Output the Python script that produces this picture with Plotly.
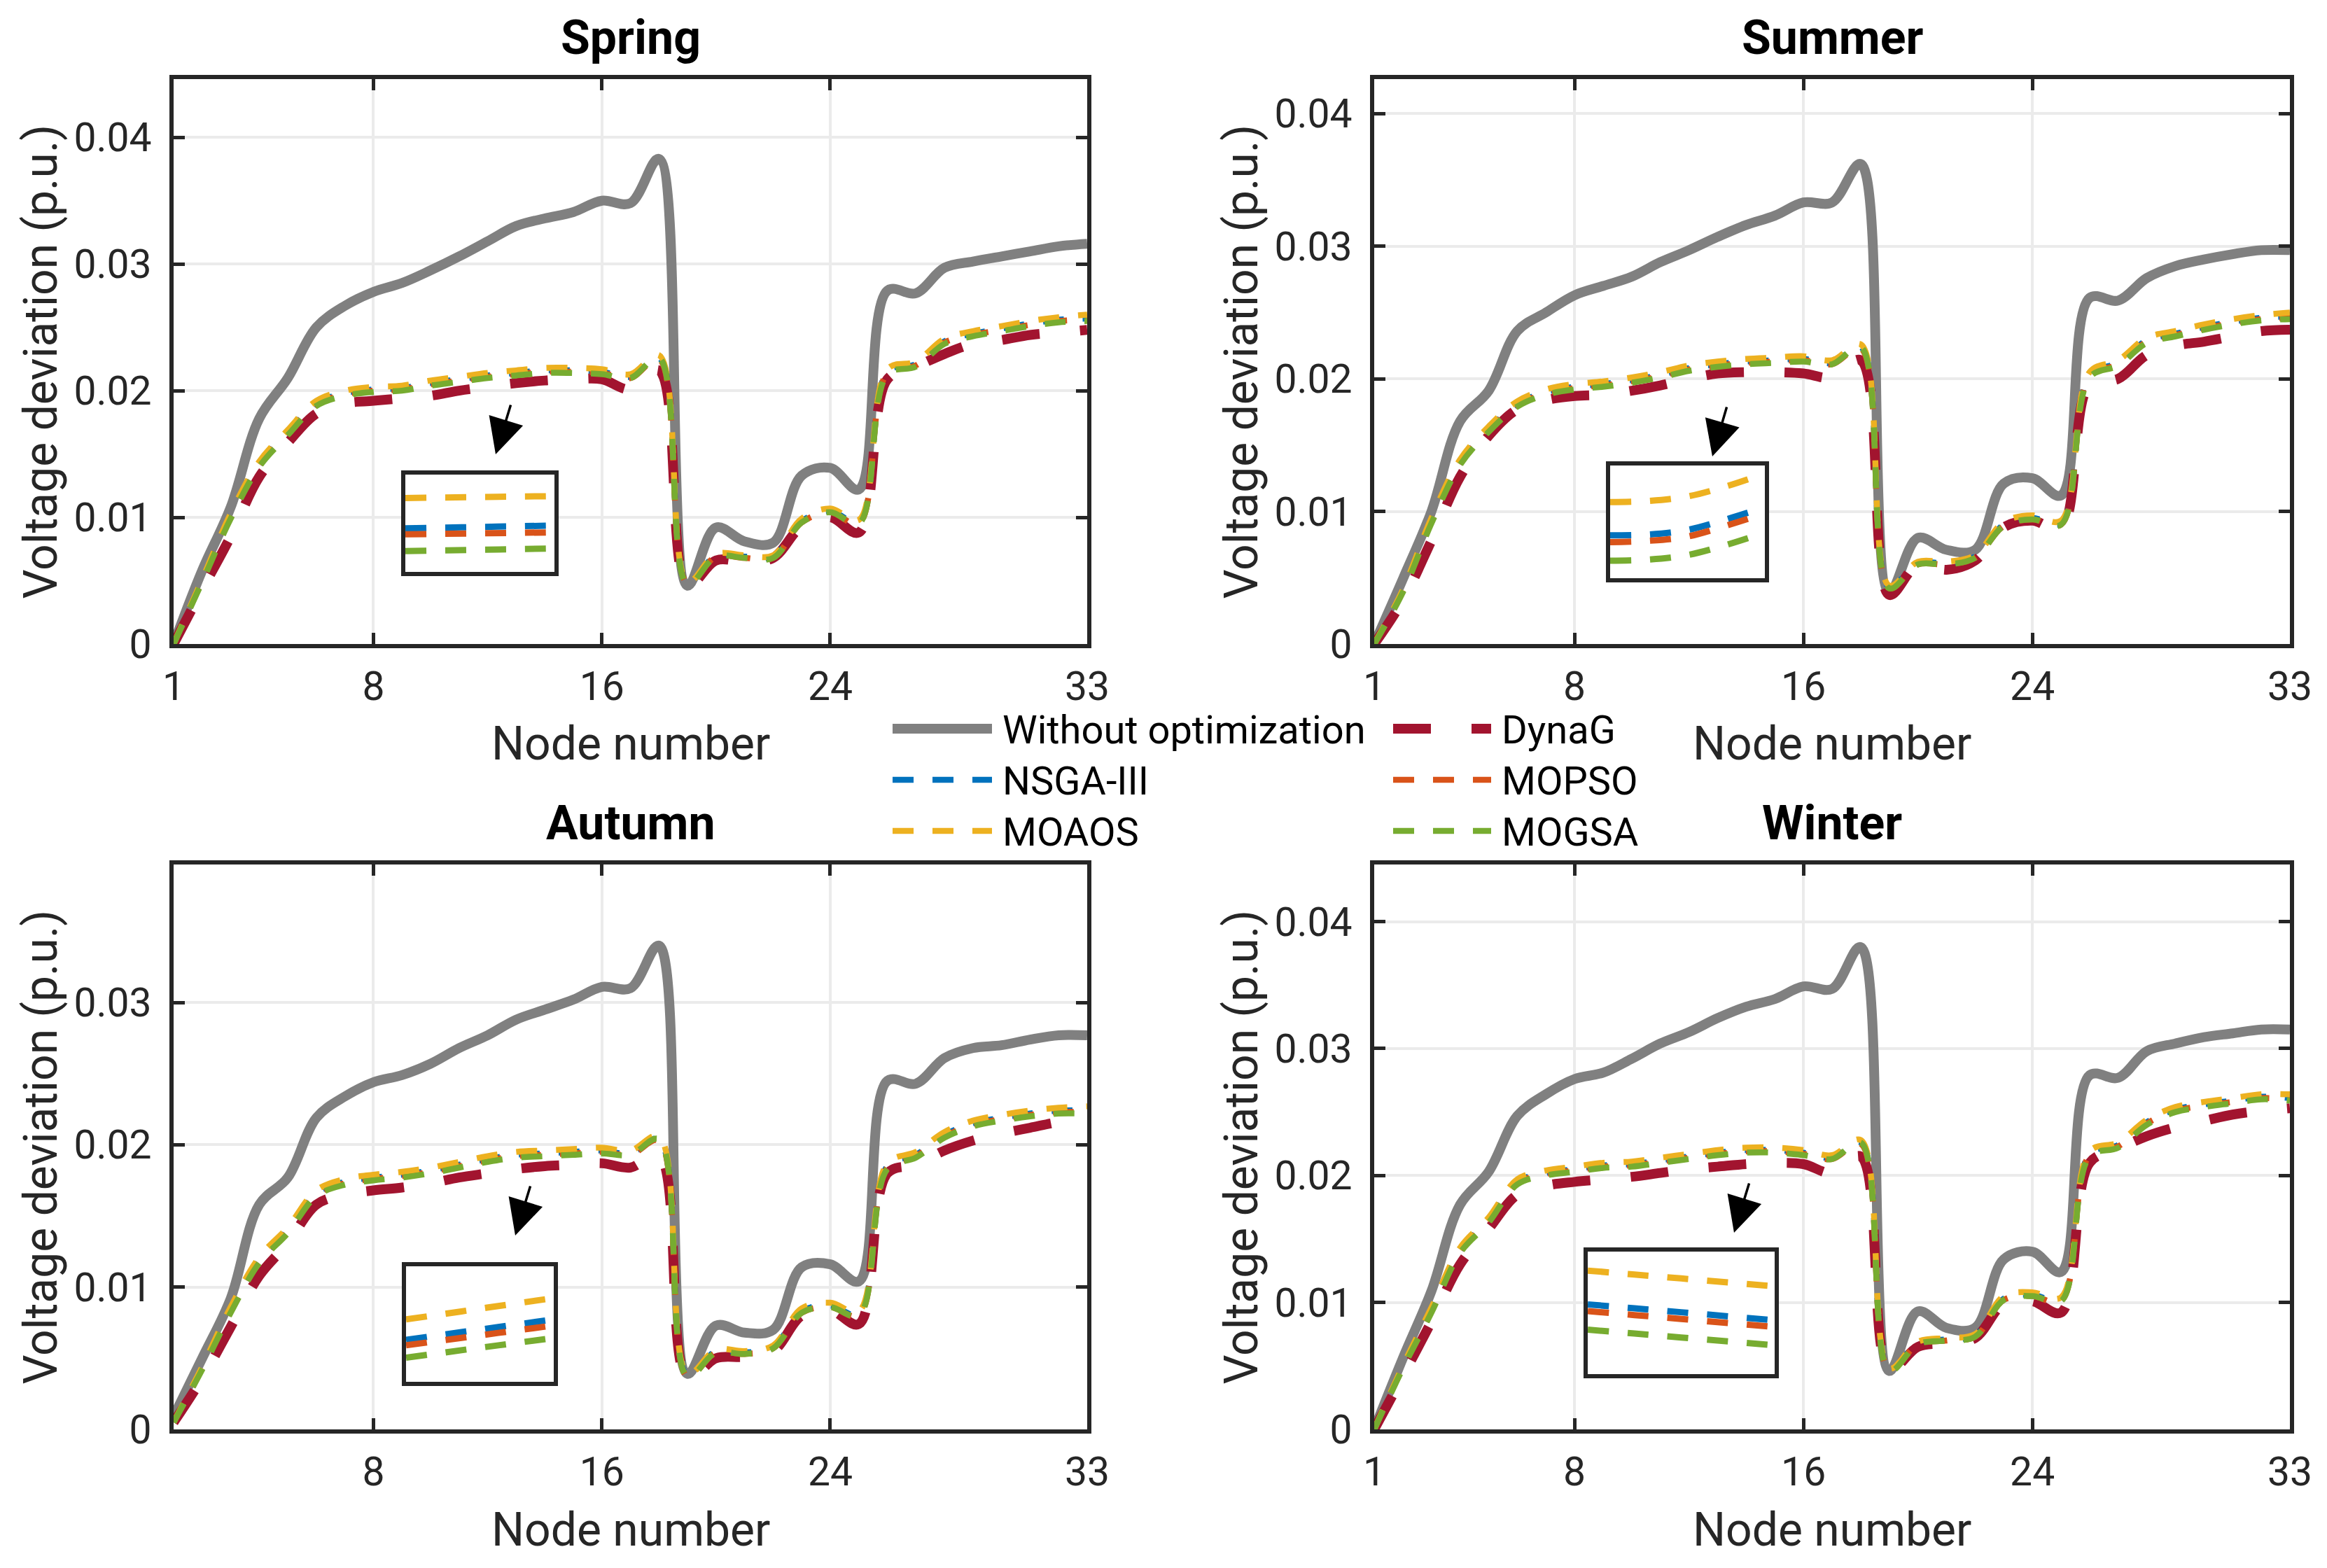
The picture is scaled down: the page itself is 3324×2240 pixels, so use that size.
import plotly.graph_objects as go

W, H = 3324, 2240

nodes = list(range(1, 34))

# ---------------- Spring ----------------
spring_without = [0.0000, 0.0058, 0.0108, 0.0178, 0.0210, 0.0250, 0.0267, 0.0278, 0.0285, 0.0295, 0.0306, 0.0318, 0.0330, 0.0336, 0.0341, 0.0350, 0.0348, 0.0383, 0.0046, 0.0092, 0.0081, 0.0080, 0.0133, 0.0139, 0.0122, 0.0279, 0.0277, 0.0297, 0.0302, 0.0306, 0.0310, 0.0314, 0.0316]
spring_dynag = [0.0000, 0.0043, 0.0085, 0.0132, 0.0159, 0.0182, 0.0190, 0.0192, 0.0194, 0.0196, 0.0200, 0.0203, 0.0206, 0.0208, 0.0209, 0.0209, 0.0201, 0.0216, 0.0046, 0.0066, 0.0065, 0.0068, 0.0093, 0.0100, 0.0088, 0.0209, 0.0219, 0.0229, 0.0237, 0.0240, 0.0244, 0.0246, 0.0248]
spring_nsga = [0.0000, 0.0050, 0.0101, 0.0142, 0.0167, 0.0190, 0.0198, 0.0201, 0.0202, 0.0206, 0.0209, 0.0212, 0.0214, 0.0216, 0.0216, 0.0215, 0.0211, 0.0226, 0.0048, 0.0070, 0.0069, 0.0069, 0.0097, 0.0105, 0.0096, 0.0215, 0.0221, 0.0239, 0.0245, 0.0249, 0.0253, 0.0256, 0.0257]
spring_mopso = [0.0000, 0.0050, 0.0100, 0.0141, 0.0166, 0.0189, 0.0197, 0.0200, 0.0201, 0.0205, 0.0208, 0.0211, 0.0213, 0.0215, 0.0215, 0.0214, 0.0210, 0.0225, 0.0048, 0.0069, 0.0068, 0.0068, 0.0096, 0.0104, 0.0095, 0.0214, 0.0220, 0.0238, 0.0244, 0.0248, 0.0252, 0.0255, 0.0256]
spring_moaos = [0.0000, 0.0051, 0.0103, 0.0144, 0.0169, 0.0192, 0.0200, 0.0203, 0.0204, 0.0208, 0.0211, 0.0214, 0.0216, 0.0218, 0.0218, 0.0217, 0.0213, 0.0228, 0.0049, 0.0071, 0.0070, 0.0070, 0.0099, 0.0107, 0.0098, 0.0217, 0.0223, 0.0241, 0.0247, 0.0251, 0.0255, 0.0258, 0.0260]
spring_mogsa = [0.0000, 0.0049, 0.0099, 0.0140, 0.0165, 0.0188, 0.0196, 0.0199, 0.0200, 0.0204, 0.0207, 0.0210, 0.0212, 0.0214, 0.0214, 0.0213, 0.0210, 0.0226, 0.0047, 0.0069, 0.0068, 0.0068, 0.0096, 0.0104, 0.0095, 0.0213, 0.0219, 0.0237, 0.0243, 0.0247, 0.0251, 0.0254, 0.0255]

# ---------------- Summer ----------------
summer_without = [0.0000, 0.0049, 0.0100, 0.0168, 0.0191, 0.0236, 0.0250, 0.0263, 0.0270, 0.0277, 0.0288, 0.0297, 0.0307, 0.0316, 0.0323, 0.0333, 0.0333, 0.0362, 0.0039, 0.0080, 0.0071, 0.0071, 0.0121, 0.0125, 0.0112, 0.0261, 0.0259, 0.0276, 0.0285, 0.0290, 0.0294, 0.0297, 0.0297]
summer_dynag = [0.0000, 0.0033, 0.0078, 0.0126, 0.0157, 0.0177, 0.0184, 0.0187, 0.0188, 0.0191, 0.0195, 0.0200, 0.0204, 0.0205, 0.0205, 0.0204, 0.0201, 0.0214, 0.0037, 0.0060, 0.0056, 0.0063, 0.0088, 0.0093, 0.0087, 0.0196, 0.0200, 0.0218, 0.0225, 0.0228, 0.0232, 0.0236, 0.0237]
summer_nsga = [0.0000, 0.0040, 0.0093, 0.0137, 0.0162, 0.0181, 0.0190, 0.0194, 0.0196, 0.0199, 0.0203, 0.0208, 0.0211, 0.0213, 0.0214, 0.0215, 0.0212, 0.0224, 0.0043, 0.0061, 0.0061, 0.0066, 0.0090, 0.0095, 0.0091, 0.0203, 0.0212, 0.0229, 0.0234, 0.0239, 0.0243, 0.0246, 0.0247]
summer_mopso = [0.0000, 0.0040, 0.0092, 0.0136, 0.0161, 0.0180, 0.0189, 0.0193, 0.0195, 0.0198, 0.0202, 0.0207, 0.0210, 0.0212, 0.0213, 0.0214, 0.0211, 0.0223, 0.0042, 0.0060, 0.0060, 0.0065, 0.0089, 0.0094, 0.0090, 0.0202, 0.0211, 0.0228, 0.0233, 0.0238, 0.0242, 0.0245, 0.0246]
summer_moaos = [0.0000, 0.0041, 0.0095, 0.0139, 0.0164, 0.0183, 0.0192, 0.0196, 0.0198, 0.0201, 0.0205, 0.0210, 0.0213, 0.0215, 0.0216, 0.0217, 0.0214, 0.0226, 0.0044, 0.0062, 0.0062, 0.0067, 0.0092, 0.0097, 0.0093, 0.0205, 0.0214, 0.0231, 0.0236, 0.0241, 0.0245, 0.0248, 0.0250]
summer_mogsa = [0.0000, 0.0039, 0.0091, 0.0135, 0.0160, 0.0179, 0.0188, 0.0192, 0.0194, 0.0197, 0.0201, 0.0206, 0.0209, 0.0211, 0.0212, 0.0213, 0.0211, 0.0224, 0.0042, 0.0060, 0.0060, 0.0065, 0.0089, 0.0094, 0.0090, 0.0201, 0.0210, 0.0227, 0.0232, 0.0237, 0.0241, 0.0244, 0.0245]

# ---------------- Autumn ----------------
autumn_without = [0.0009, 0.0050, 0.0092, 0.0158, 0.0177, 0.0219, 0.0234, 0.0244, 0.0249, 0.0257, 0.0268, 0.0277, 0.0288, 0.0295, 0.0302, 0.0311, 0.0310, 0.0340, 0.0039, 0.0073, 0.0068, 0.0070, 0.0114, 0.0116, 0.0104, 0.0245, 0.0243, 0.0261, 0.0268, 0.0270, 0.0274, 0.0277, 0.0277]
autumn_dynag = [0.0005, 0.0036, 0.0072, 0.0108, 0.0131, 0.0158, 0.0165, 0.0168, 0.0170, 0.0173, 0.0177, 0.0180, 0.0183, 0.0185, 0.0186, 0.0187, 0.0184, 0.0193, 0.0036, 0.0050, 0.0051, 0.0055, 0.0080, 0.0084, 0.0074, 0.0180, 0.0186, 0.0196, 0.0203, 0.0208, 0.0212, 0.0216, 0.0218]
autumn_nsga = [0.0005, 0.0043, 0.0084, 0.0119, 0.0140, 0.0166, 0.0174, 0.0177, 0.0179, 0.0182, 0.0186, 0.0190, 0.0193, 0.0194, 0.0195, 0.0196, 0.0194, 0.0204, 0.0038, 0.0055, 0.0054, 0.0058, 0.0083, 0.0087, 0.0081, 0.0185, 0.0193, 0.0207, 0.0215, 0.0219, 0.0222, 0.0224, 0.0224]
autumn_mopso = [0.0005, 0.0043, 0.0083, 0.0118, 0.0139, 0.0165, 0.0173, 0.0176, 0.0178, 0.0181, 0.0185, 0.0189, 0.0192, 0.0193, 0.0194, 0.0195, 0.0193, 0.0203, 0.0037, 0.0054, 0.0053, 0.0057, 0.0082, 0.0086, 0.0080, 0.0184, 0.0192, 0.0206, 0.0214, 0.0218, 0.0221, 0.0223, 0.0223]
autumn_moaos = [0.0005, 0.0044, 0.0086, 0.0121, 0.0142, 0.0168, 0.0176, 0.0179, 0.0181, 0.0184, 0.0188, 0.0192, 0.0195, 0.0196, 0.0197, 0.0198, 0.0196, 0.0206, 0.0039, 0.0056, 0.0055, 0.0059, 0.0085, 0.0089, 0.0083, 0.0187, 0.0195, 0.0209, 0.0217, 0.0221, 0.0224, 0.0226, 0.0227]
autumn_mogsa = [0.0005, 0.0042, 0.0082, 0.0117, 0.0138, 0.0164, 0.0172, 0.0175, 0.0177, 0.0180, 0.0184, 0.0188, 0.0191, 0.0192, 0.0193, 0.0194, 0.0193, 0.0204, 0.0037, 0.0054, 0.0053, 0.0057, 0.0082, 0.0086, 0.0080, 0.0183, 0.0191, 0.0205, 0.0213, 0.0217, 0.0220, 0.0222, 0.0222]

# ---------------- Winter ----------------
winter_without = [0.0000, 0.0056, 0.0109, 0.0177, 0.0203, 0.0247, 0.0264, 0.0276, 0.0281, 0.0292, 0.0304, 0.0313, 0.0324, 0.0333, 0.0339, 0.0349, 0.0347, 0.0380, 0.0046, 0.0093, 0.0080, 0.0080, 0.0134, 0.0140, 0.0124, 0.0279, 0.0277, 0.0298, 0.0304, 0.0309, 0.0312, 0.0315, 0.0315]
winter_dynag = [0.0000, 0.0042, 0.0085, 0.0130, 0.0158, 0.0185, 0.0192, 0.0195, 0.0197, 0.0199, 0.0202, 0.0205, 0.0207, 0.0209, 0.0210, 0.0209, 0.0202, 0.0215, 0.0047, 0.0065, 0.0068, 0.0072, 0.0099, 0.0101, 0.0092, 0.0210, 0.0221, 0.0231, 0.0238, 0.0243, 0.0248, 0.0251, 0.0253]
winter_nsga = [0.0000, 0.0049, 0.0094, 0.0141, 0.0165, 0.0195, 0.0202, 0.0205, 0.0208, 0.0209, 0.0212, 0.0215, 0.0218, 0.0220, 0.0220, 0.0218, 0.0214, 0.0226, 0.0047, 0.0068, 0.0071, 0.0074, 0.0103, 0.0106, 0.0102, 0.0217, 0.0224, 0.0242, 0.0252, 0.0256, 0.0259, 0.0262, 0.0261]
winter_mopso = [0.0000, 0.0049, 0.0093, 0.0140, 0.0164, 0.0194, 0.0201, 0.0204, 0.0207, 0.0208, 0.0211, 0.0214, 0.0217, 0.0219, 0.0219, 0.0217, 0.0213, 0.0225, 0.0047, 0.0067, 0.0070, 0.0073, 0.0102, 0.0105, 0.0101, 0.0216, 0.0223, 0.0241, 0.0251, 0.0255, 0.0258, 0.0261, 0.0260]
winter_moaos = [0.0000, 0.0050, 0.0096, 0.0143, 0.0167, 0.0197, 0.0204, 0.0207, 0.0210, 0.0211, 0.0214, 0.0217, 0.0220, 0.0222, 0.0222, 0.0220, 0.0216, 0.0228, 0.0048, 0.0069, 0.0072, 0.0075, 0.0105, 0.0108, 0.0104, 0.0219, 0.0226, 0.0244, 0.0254, 0.0258, 0.0261, 0.0264, 0.0264]
winter_mogsa = [0.0000, 0.0048, 0.0092, 0.0139, 0.0163, 0.0193, 0.0200, 0.0203, 0.0206, 0.0207, 0.0210, 0.0213, 0.0216, 0.0218, 0.0218, 0.0216, 0.0213, 0.0226, 0.0046, 0.0067, 0.0070, 0.0073, 0.0102, 0.0105, 0.0101, 0.0215, 0.0222, 0.0240, 0.0250, 0.0254, 0.0257, 0.0260, 0.0259]

# ---------------- Zoomed insets (relative units) ----------------
inset_x = [0, 0.25, 0.5, 0.75, 1]
spring_inset_moaos = [0.759, 0.764, 0.769, 0.774, 0.779]
spring_inset_nsga = [0.448, 0.455, 0.462, 0.469, 0.476]
spring_inset_mopso = [0.386, 0.391, 0.396, 0.401, 0.407]
spring_inset_mogsa = [0.214, 0.221, 0.228, 0.234, 0.241]
summer_inset_moaos = [0.675, 0.685, 0.725, 0.815, 0.930]
summer_inset_nsga = [0.380, 0.388, 0.428, 0.522, 0.630]
summer_inset_mopso = [0.320, 0.332, 0.370, 0.466, 0.575]
summer_inset_mogsa = [0.155, 0.165, 0.205, 0.295, 0.405]
autumn_inset_moaos = [0.540, 0.586, 0.633, 0.679, 0.725]
autumn_inset_nsga = [0.364, 0.408, 0.452, 0.496, 0.540]
autumn_inset_mopso = [0.316, 0.359, 0.402, 0.445, 0.488]
autumn_inset_mogsa = [0.209, 0.252, 0.295, 0.337, 0.380]
winter_inset_moaos = [0.845, 0.813, 0.781, 0.749, 0.717]
winter_inset_nsga = [0.569, 0.537, 0.505, 0.472, 0.440]
winter_inset_mopso = [0.514, 0.482, 0.450, 0.417, 0.385]
winter_inset_mogsa = [0.363, 0.331, 0.299, 0.267, 0.235]

season_names = ["Spring", "Summer", "Autumn", "Winter"]
method_names = ["Without optimization", "DynaG", "NSGA-III", "MOPSO", "MOAOS", "MOGSA"]
x_ticks_default = [1, 8, 16, 24, 33]
x_ticks_autumn = [8, 16, 24, 33]
y_tick_vals = [0, 0.01, 0.02, 0.03, 0.04]
y_tick_text = ["0", "0.01", "0.02", "0.03", "0.04"]
y_tops = [0.0446, 0.0426, 0.0397, 0.0445]

# ---------------- styling ----------------
FONT = "Roboto"
DARK = "#262626"
colors = {"Without optimization": "#808080", "DynaG": "#A2142F", "NSGA-III": "#0072BD",
          "MOPSO": "#D95319", "MOAOS": "#EDB120", "MOGSA": "#77AC30"}
widths = {"Without optimization": 14, "DynaG": 14, "NSGA-III": 8.5, "MOPSO": 8.5, "MOAOS": 8.5, "MOGSA": 8.5}
dashes = {"Without optimization": "solid", "DynaG": "54px,58px", "NSGA-III": "30px,27px",
          "MOPSO": "30px,27px", "MOAOS": "30px,27px", "MOGSA": "30px,27px"}

def px_x(v):
    return v / W

def px_y(v):
    return 1 - v / H

# plot areas in pixels (left, right, top, bottom)
panels = [(240, 1545, 105, 912), (1955, 3263, 105, 912),
          (240, 1545, 1227, 2034), (1955, 3263, 1227, 2034)]
insets = [(571, 784, 670, 809), (2292, 2513, 657, 818),
          (572, 783, 1801, 1966), (2260, 2527, 1780, 1955)]
# arrow head (x, y) and tail offset (dx, dy) in pixels
arrows = [((700, 641), (22, -72)), ((2438, 644), (21, -72)),
          ((728, 1757), (22, -72)), ((2469, 1753), (22, -72))]

season_data = [
    [spring_without, spring_dynag, spring_nsga, spring_mopso, spring_moaos, spring_mogsa],
    [summer_without, summer_dynag, summer_nsga, summer_mopso, summer_moaos, summer_mogsa],
    [autumn_without, autumn_dynag, autumn_nsga, autumn_mopso, autumn_moaos, autumn_mogsa],
    [winter_without, winter_dynag, winter_nsga, winter_mopso, winter_moaos, winter_mogsa],
]
inset_data = [
    [spring_inset_nsga, spring_inset_mopso, spring_inset_moaos, spring_inset_mogsa],
    [summer_inset_nsga, summer_inset_mopso, summer_inset_moaos, summer_inset_mogsa],
    [autumn_inset_nsga, autumn_inset_mopso, autumn_inset_moaos, autumn_inset_mogsa],
    [winter_inset_nsga, winter_inset_mopso, winter_inset_moaos, winter_inset_mogsa],
]
inset_methods = ["NSGA-III", "MOPSO", "MOAOS", "MOGSA"]

fig = go.Figure()
layout_axes = {}
annotations = []
shapes = []

for i in range(4):
    sid = "" if i == 0 else str(i + 1)
    xa, ya = "x" + sid, "y" + sid
    l, r, t, b = panels[i]
    for name, vals in zip(method_names, season_data[i]):
        fig.add_trace(go.Scatter(
            x=nodes, y=vals, mode="lines", name=name, showlegend=False,
            xaxis=xa, yaxis=ya,
            line=dict(color=colors[name], width=widths[name], dash=dashes[name],
                      shape="spline", smoothing=1.0)))
    xt = x_ticks_autumn if i == 2 else x_ticks_default
    top = y_tops[i]
    yv = [v for v in y_tick_vals if v <= top]
    yt = [y_tick_text[k] for k, v in enumerate(y_tick_vals) if v <= top]
    common = dict(showgrid=True, gridcolor="#ebebeb", gridwidth=4, zeroline=False,
                  showline=True, linecolor=DARK, linewidth=6, mirror="ticks",
                  ticks="inside", ticklen=16, tickwidth=5, tickcolor=DARK,
                  automargin=False,
                  tickfont=dict(family=FONT, size=57, color=DARK), fixedrange=True)
    layout_axes["xaxis" + sid] = dict(domain=[px_x(l), px_x(r)], anchor=ya, range=[1, 33],
                                      tickmode="array", tickvals=xt, ticktext=[str(v) for v in xt],
                                      ticklabelstandoff=6, **common)
    layout_axes["yaxis" + sid] = dict(domain=[px_y(b), px_y(t)], anchor=xa, range=[0, top],
                                      tickmode="array", tickvals=yv, ticktext=yt,
                                      ticklabelstandoff=14, **common)
    cx = (l + r) / 2
    cy = (t + b) / 2
    # panel title
    annotations.append(dict(text="<b>%s</b>" % season_names[i], x=px_x(cx), y=px_y(t - 59),
                            xref="paper", yref="paper", showarrow=False, xanchor="center",
                            yanchor="middle", font=dict(family=FONT, size=68, color="black")))
    # axis titles
    annotations.append(dict(text="Node number", x=px_x(cx), y=px_y(b + 143),
                            xref="paper", yref="paper", showarrow=False, xanchor="center",
                            yanchor="middle", font=dict(family=FONT, size=66, color=DARK)))
    annotations.append(dict(text="Voltage deviation (p.u.)", x=px_x(l - 190), y=px_y(cy),
                            xref="paper", yref="paper", showarrow=False, xanchor="center",
                            yanchor="middle", textangle=-90,
                            font=dict(family=FONT, size=66, color=DARK)))

    # inset
    isid = str(i + 5)
    il, ir, it, ib = insets[i]
    for name, vals in zip(inset_methods, inset_data[i]):
        fig.add_trace(go.Scatter(
            x=inset_x, y=vals, mode="lines", name=name, showlegend=False,
            xaxis="x" + isid, yaxis="y" + isid,
            line=dict(color=colors[name], width=9, dash="30px,27px", shape="spline")))
    inset_common = dict(showgrid=False, zeroline=False, showticklabels=False, ticks="",
                        showline=True, linecolor=DARK, linewidth=6, mirror=True,
                        automargin=False, range=[0, 1], fixedrange=True)
    layout_axes["xaxis" + isid] = dict(domain=[px_x(il), px_x(ir)], anchor="y" + isid, **inset_common)
    layout_axes["yaxis" + isid] = dict(domain=[px_y(ib), px_y(it)], anchor="x" + isid, **inset_common)

    (hx, hy), (dx, dy) = arrows[i]
    annotations.append(dict(text="", x=px_x(hx), y=px_y(hy), xref="paper", yref="paper",
                            showarrow=True, ax=dx, ay=dy, arrowhead=2, arrowsize=2.9,
                            arrowwidth=3.5, arrowcolor="black", standoff=0))

# ---------------- legend (two columns, drawn manually) ----------------
legend_rows = [1033, 1106, 1179]
legend_layout = [("Without optimization", 0, 0), ("DynaG", 0, 1),
                 ("NSGA-III", 1, 0), ("MOPSO", 1, 1),
                 ("MOAOS", 2, 0), ("MOGSA", 2, 1)]
col_line = [(1267, 1409), (1982, 2122)]
col_text = [1422, 2135]
for name, row, col in legend_layout:
    y0 = legend_rows[row]
    x0, x1 = col_line[col]
    shapes.append(dict(type="line", xref="paper", yref="paper",
                       x0=px_x(x0), x1=px_x(x1), y0=px_y(y0), y1=px_y(y0),
                       line=dict(color=colors[name], width=widths[name], dash=dashes[name])))
    annotations.append(dict(text=name, x=px_x(col_text[col]), y=px_y(y0 + 2),
                            xref="paper", yref="paper", showarrow=False,
                            xanchor="left", yanchor="middle",
                            font=dict(family=FONT, size=56, color="black")))

fig.update_layout(
    width=W, height=H, margin=dict(l=0, r=0, t=0, b=0, pad=0),
    paper_bgcolor="white", plot_bgcolor="white", showlegend=False,
    annotations=annotations, shapes=shapes, font=dict(family=FONT, color=DARK),
    **layout_axes)

fig.write_html("out.html")
